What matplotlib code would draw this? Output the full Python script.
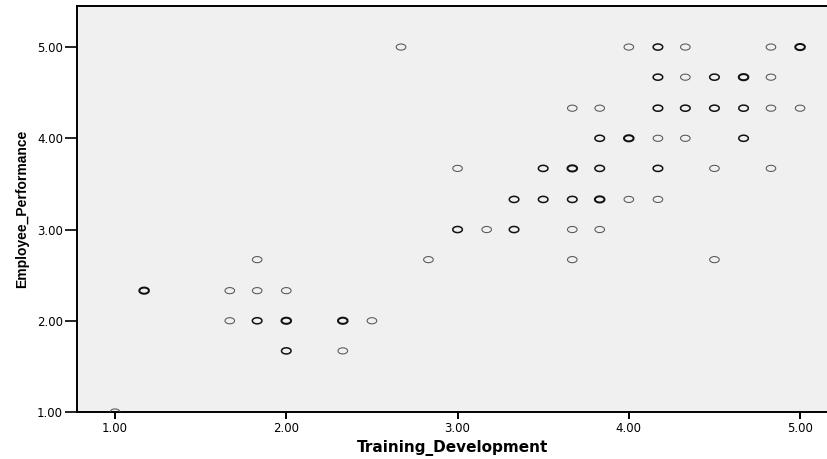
import numpy as np
import matplotlib
matplotlib.use("Agg")
from matplotlib import pyplot as plt
from matplotlib.path import Path

# values; n_cases = how many cases sit on the same spot
train_dev = [2.67, 4.00, 4.17, 4.33, 4.83, 5.00,
             4.17, 4.33, 4.50, 4.67, 4.83,
             3.67, 3.83, 4.17, 4.33, 4.50, 4.67, 4.83, 5.00,
             3.83, 4.00, 4.17, 4.33, 4.67,
             3.00, 3.50, 3.67, 3.83, 4.17, 4.50, 4.83,
             3.33, 3.50, 3.67, 3.83, 4.00, 4.17,
             3.00, 3.17, 3.33, 3.67, 3.83,
             1.83, 2.83, 3.67, 4.50,
             1.17, 1.67, 1.83, 2.00,
             1.67, 1.83, 2.00, 2.33, 2.50,
             2.00, 2.33,
             1.00]
emp_perf = [5.00, 5.00, 5.00, 5.00, 5.00, 5.00,
            4.67, 4.67, 4.67, 4.67, 4.67,
            4.33, 4.33, 4.33, 4.33, 4.33, 4.33, 4.33, 4.33,
            4.00, 4.00, 4.00, 4.00, 4.00,
            3.67, 3.67, 3.67, 3.67, 3.67, 3.67, 3.67,
            3.33, 3.33, 3.33, 3.33, 3.33, 3.33,
            3.00, 3.00, 3.00, 3.00, 3.00,
            2.67, 2.67, 2.67, 2.67,
            2.33, 2.33, 2.33, 2.33,
            2.00, 2.00, 2.00, 2.00, 2.00,
            1.67, 1.67,
            1.00]
n_cases = [1, 1, 2, 1, 1, 3,
           2, 1, 2, 3, 1,
           1, 1, 2, 2, 2, 2, 1, 1,
           2, 3, 1, 1, 2,
           1, 2, 3, 2, 2, 1, 1,
           2, 2, 2, 3, 1, 1,
           2, 1, 2, 1, 1,
           1, 1, 1, 1,
           3, 1, 1, 1,
           1, 2, 3, 3, 1,
           2, 1,
           1]

xticks = [1, 2, 3, 4, 5]
yticks = [1, 2, 3, 4, 5]

plt.rcParams['font.family'] = ['DejaVu Sans']

fig = plt.figure(figsize=(8.28, 4.59), dpi=100)
ax = fig.add_axes([77/828, 47/459, 751/828, 406/459])
ax.set_facecolor('#f0f0f0')

# SPSS draws slightly flattened circles
t = np.linspace(0, 2*np.pi, 60)
ellipse = Path(np.column_stack([np.cos(t), 0.64*np.sin(t)]))

n = np.array(n_cases)
lw = 0.75 + 0.35*(n - 1)
cols = ['#555555' if k == 1 else '#111111' for k in n]
ax.scatter(train_dev, emp_perf, s=6.9**2, marker=ellipse,
           facecolors='none', edgecolors=cols, linewidths=lw, zorder=3)

ax.set_xlim(0.778, 5.163)
ax.set_ylim(1.0, 5.45)
ax.set_xticks(xticks)
ax.set_yticks(yticks)
ax.set_xticklabels(['%.2f' % v for v in xticks])
ax.set_yticklabels(['%.2f' % v for v in yticks])

for s in ['left', 'bottom', 'top']:
    ax.spines[s].set_linewidth(1.4)
    ax.spines[s].set_color('black')
ax.spines['right'].set_visible(False)

ax.tick_params(axis='x', direction='out', length=5, width=1.4, pad=2,
               labelsize=8.5, colors='black')
ax.tick_params(axis='y', direction='out', length=9, width=1.2, pad=1,
               labelsize=8.5, colors='black')

ax.set_xlabel('Training_Development', fontsize=11, fontweight='bold', labelpad=4)
ax.set_ylabel('Employee_Performance', fontsize=10, fontweight='bold', labelpad=6,
              family=['Liberation Sans', 'DejaVu Sans'])

fig.savefig('out.png', dpi=100)
